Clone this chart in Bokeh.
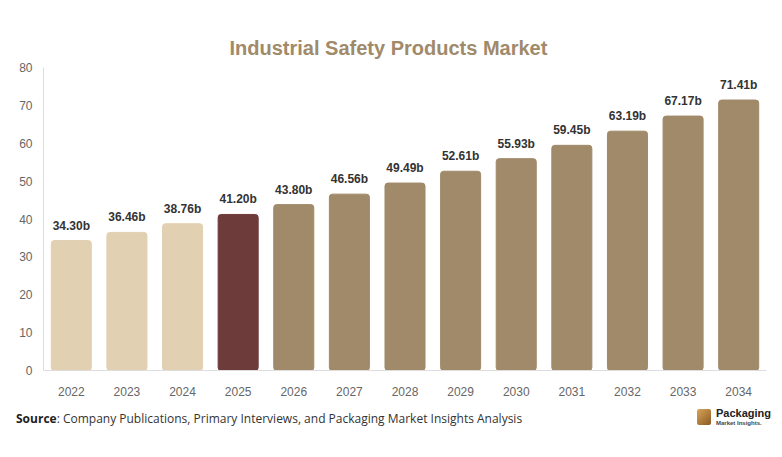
from bokeh.plotting import figure
from bokeh.models import ColumnDataSource, Range1d, FactorRange, Div
from bokeh.layouts import column
from bokeh.core.properties import value
from bokeh.embed import file_html
from bokeh.resources import INLINE

years = ["2022", "2023", "2024", "2025", "2026", "2027", "2028", "2029", "2030", "2031", "2032", "2033", "2034"]
values = [34.30, 36.46, 38.76, 41.20, 43.80, 46.56, 49.49, 52.61, 55.93, 59.45, 63.19, 67.17, 71.41]
labels = ["34.30b", "36.46b", "38.76b", "41.20b", "43.80b", "46.56b", "49.49b", "52.61b", "55.93b", "59.45b", "63.19b", "67.17b", "71.41b"]
colors = ["#E2D0B2"] * 3 + ["#6E3B3B"] + ["#A08A6A"] * 9

src = ColumnDataSource(dict(x=years, top=values, label=labels, color=colors))

p = figure(x_range=FactorRange(*years), y_range=Range1d(0, 80),
           width=774, height=402, output_backend="svg", toolbar_location=None,
           min_border_left=43, min_border_right=8, min_border_top=67, min_border_bottom=32,
           title="Industrial Safety Products Market")
p.outline_line_color = None
p.xgrid.grid_line_color = None
p.ygrid.grid_line_color = None

p.title.align = "left"
p.title.offset = 186
p.title.standoff = 17
p.title.text_font = "Liberation Sans"
p.title.text_font_size = "20px"
p.title.text_font_style = "bold"
p.title.text_color = "#A08A6A"

p.vbar(x="x", top="top", width=0.72, color="color", source=src, border_radius=3)
p.text(x="x", y="top", text="label", source=src, text_align="center", text_baseline="bottom",
       y_offset=-8, text_font_size="12px", text_font_style="bold", text_color="#333333",
       text_font=value("Liberation Sans"))

for ax in (p.xaxis, p.yaxis):
    ax.axis_line_color = "#DDDDDD"
    ax.major_tick_line_color = None
    ax.minor_tick_line_color = None
    ax.major_label_text_color = "#666666"
    ax.major_label_text_font = "Liberation Sans"
    ax.major_label_text_font_size = "12px"
    ax.major_label_standoff = 10
p.yaxis.major_label_standoff = 5
p.yaxis.ticker = [0, 10, 20, 30, 40, 50, 60, 70, 80]

footer = Div(width=774, height=50, text="""
<div style="position:relative;width:774px;height:50px;">
  <div style="position:absolute;left:11px;top:3px;font-family:'Open Sans';font-size:12px;color:#333;">
    <b style="color:#222;">Source</b>: Company Publications, Primary Interviews, and Packaging Market Insights Analysis
  </div>
  <div style="position:absolute;left:692px;top:2px;width:14px;height:16px;background:linear-gradient(135deg,#D9A55A,#8A5A22);border-radius:2px;"></div>
  <div style="position:absolute;left:711px;top:0px;font-family:'Liberation Sans';font-size:11px;font-weight:bold;color:#222;line-height:12px;">Packaging</div>
  <div style="position:absolute;left:711px;top:13px;font-family:'Liberation Sans';font-size:6px;font-weight:bold;color:#444;line-height:7px;">Market Insights.</div>
</div>
""")

layout = column(p, footer, spacing=0)
open("out.html", "w").write(file_html(layout, INLINE))
